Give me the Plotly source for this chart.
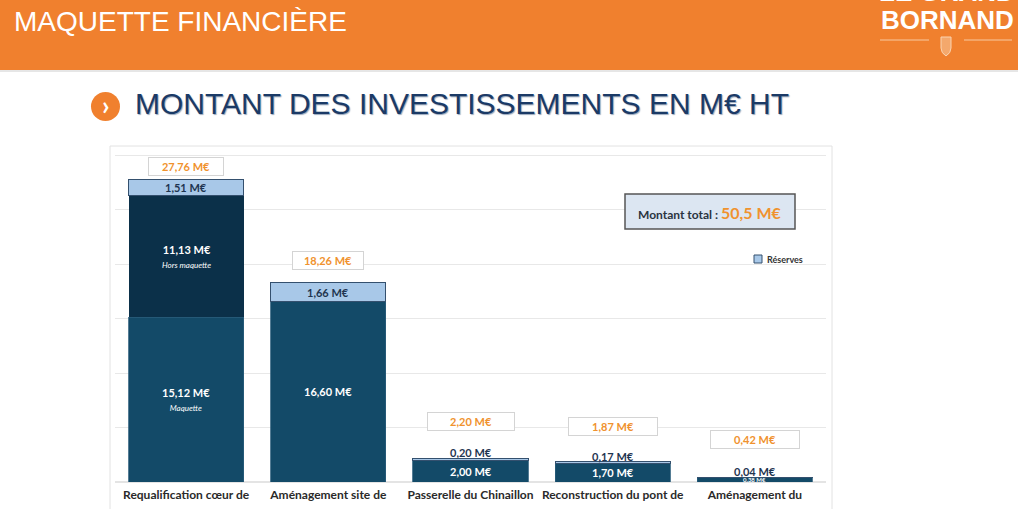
import plotly.graph_objects as go

# ── Données (M€ HT) ──────────────────────────────────────────────────────────
categories = ["Requalification cœur de", "Aménagement site de",
              "Passerelle du Chinaillon", "Reconstruction du pont de",
              "Aménagement du"]
maquette = [15.12, 16.60, 2.00, 1.70, 0.38]
hors_maquette = [11.13, 0, 0, 0, 0]
reserves = [1.51, 1.66, 0.20, 0.17, 0.04]
totals = [27.76, 18.26, 2.20, 1.87, 0.42]
montant_total = "50,5 M€"

# ── Styles ───────────────────────────────────────────────────────────────────
W, H = 1024, 509
ORANGE = "#F0802E"
ORANGE_TXT = "#F0922E"
NAVY = "#1B3A66"
MAQ = "#134A68"
HORS = "#0B3049"
RES = "#A8C8E8"
DARK_TXT = "#1F3550"
FONT = "Lato, 'Open Sans', sans-serif"
ARIAL = "'Liberation Sans', Arial, sans-serif"

total_gap = [3, 13, 27, 26, 28]     # écart label total / haut de barre (px)
total_box_w = [72, 68, 84, 86, 86]


def px(x):
    return x / W


def py(y):
    return 1 - y / H


def fmt(v):
    return f"{v:.2f}".replace(".", ",") + " M€"


def note(x, y, text, size, color, family=ARIAL, xanchor="center", **kw):
    return dict(x=px(x), y=py(y), xref="paper", yref="paper", text=text,
                xanchor=xanchor, yanchor="middle", showarrow=False,
                font=dict(color=color, size=size, family=family), **kw)


fig = go.Figure()
fig.add_trace(go.Bar(x=categories, y=maquette, name="Maquette",
                     marker=dict(color=MAQ, line=dict(color="#2B5C7A", width=0.8)),
                     showlegend=False, hoverinfo="skip"))
fig.add_trace(go.Bar(x=categories, y=hors_maquette, name="Hors maquette",
                     marker=dict(color=HORS, line=dict(width=0)),
                     showlegend=False, hoverinfo="skip"))
fig.add_trace(go.Bar(x=categories, y=reserves, name="Réserves",
                     marker=dict(color=RES, line=dict(color="#34506E", width=1)),
                     showlegend=False, hoverinfo="skip"))

ann = []
for i, cat in enumerate(categories):
    m, h, r, t = maquette[i], hors_maquette[i], reserves[i], totals[i]
    # maquette
    if m > 1:
        sub = "<br><span style='font-size:8px'><i>Maquette</i></span>" if h > 0 else ""
        ann.append(dict(x=cat, y=m / 2, text=f"<b>{fmt(m)}</b>{sub}",
                        showarrow=False, font=dict(color="white", size=11, family=FONT)))
    else:
        ann.append(dict(x=cat, y=m / 2, text=f"<b>{fmt(m)}</b>", showarrow=False,
                        font=dict(color="white", size=6, family=FONT)))
    # hors maquette
    if h > 0:
        ann.append(dict(x=cat, y=m + h / 2,
                        text=f"<b>{fmt(h)}</b><br><span style='font-size:8px'><i>Hors maquette</i></span>",
                        showarrow=False, font=dict(color="white", size=11, family=FONT)))
    # réserves
    if r > 1:
        ann.append(dict(x=cat, y=m + h + r / 2, text=f"<b>{fmt(r)}</b>",
                        showarrow=False, font=dict(color=DARK_TXT, size=11, family=FONT)))
    else:
        ann.append(dict(x=cat, y=t, yanchor="bottom", yshift=-3, text=f"<b>{fmt(r)}</b>",
                        showarrow=False, font=dict(color=DARK_TXT, size=11, family=FONT)))
    # total
    ann.append(dict(x=cat, y=t, yanchor="bottom", yshift=total_gap[i],
                    text=f"<b>{fmt(t)}</b>", showarrow=False,
                    width=total_box_w[i], height=15, bgcolor="white",
                    bordercolor="#D4D4D4", borderwidth=1, borderpad=1,
                    font=dict(color=ORANGE_TXT, size=11, family=FONT)))

# Titres
ann.append(note(12, 21, "MAQUETTE FINANCIÈRE", 28, "white", xanchor="left"))
ann.append(note(947, -8, "<b>LE GRAND</b>", 26, "white"))
ann.append(note(947, 20, "<b>BORNAND</b>", 26, "white"))
ann.append(note(133, 104, "MONTANT DES INVESTISSEMENTS EN M€ HT", 30, NAVY, xanchor="left"))
ann[-1]["font"]["shadow"] = "1px 1px 1px #9AA8BC"
ann.append(note(106, 105, "<b>›</b>", 26, "white", family=FONT))
# Montant total
ann.append(note(710, 212,
                f"<b>Montant total : </b><b><span style='color:{ORANGE_TXT};font-size:16px'>{montant_total}</span></b>",
                12, "#2A3440", family=FONT))
# Légende
ann.append(note(765, 259, "<b>Réserves</b>", 9, "#333333", family=FONT, xanchor="left"))

shapes = [
    dict(type="rect", xref="paper", yref="paper", x0=0, x1=px(1018), y0=py(0), y1=py(70),
         fillcolor=ORANGE, line=dict(width=0), layer="below"),
    dict(type="line", xref="paper", yref="paper", x0=0, x1=px(1018), y0=py(71), y1=py(71),
         line=dict(color="#E6E6E6", width=2)),
    dict(type="line", xref="paper", yref="paper", x0=px(880), x1=px(929), y0=py(40), y1=py(40),
         line=dict(color="#F8C9A0", width=1)),
    dict(type="line", xref="paper", yref="paper", x0=px(964), x1=px(1012), y0=py(40), y1=py(40),
         line=dict(color="#F8C9A0", width=1)),
    dict(type="path", xref="paper", yref="paper",
         path=f"M {px(941)} {py(37)} L {px(951)} {py(37)} L {px(951)} {py(48)} "
              f"Q {px(951)} {py(53)} {px(946)} {py(56)} Q {px(941)} {py(53)} {px(941)} {py(48)} Z",
         fillcolor="#F4A86C", line=dict(color="#FAD3B0", width=1)),
    dict(type="circle", xref="paper", yref="paper", x0=px(91), x1=px(120), y0=py(92), y1=py(121),
         fillcolor=ORANGE, line=dict(width=0)),
    dict(type="rect", xref="paper", yref="paper", x0=px(110), x1=px(832), y0=py(146), y1=py(512),
         line=dict(color="#E2E2E2", width=1), layer="below"),
    dict(type="rect", xref="paper", yref="paper", x0=px(625), x1=px(795), y0=py(194), y1=py(229),
         fillcolor="#DCE6F2", line=dict(color="#555555", width=1.5)),
    dict(type="rect", xref="paper", yref="paper", x0=px(754), x1=px(762), y0=py(255), y1=py(263),
         fillcolor=RES, line=dict(color="#34506E", width=1)),
]

fig.update_layout(
    width=W, height=H,
    margin=dict(l=0, r=0, t=0, b=0),
    paper_bgcolor="white", plot_bgcolor="white",
    barmode="stack", bargap=0.19,
    showlegend=False,
    annotations=ann, shapes=shapes,
    font=dict(family=FONT),
)
fig.update_xaxes(domain=[px(115), px(826)], range=[-0.5, 4.5], showgrid=False,
                 showline=False, ticks="", tickfont=dict(color="#2A2A2A", size=12, family=FONT),
                 ticklabelstandoff=4, tickprefix="<b>", ticksuffix="</b>")
fig.update_yaxes(domain=[py(482), py(150)], range=[0, 30.46], dtick=5,
                 showticklabels=False, gridcolor="#E8E8E8", gridwidth=1,
                 zeroline=True, zerolinecolor="#E4E4E4")

fig.write_html("out.html", config={"displayModeBar": False},
               post_script="document.body.style.margin='0';"
                           "document.body.style.overflow='hidden';")
